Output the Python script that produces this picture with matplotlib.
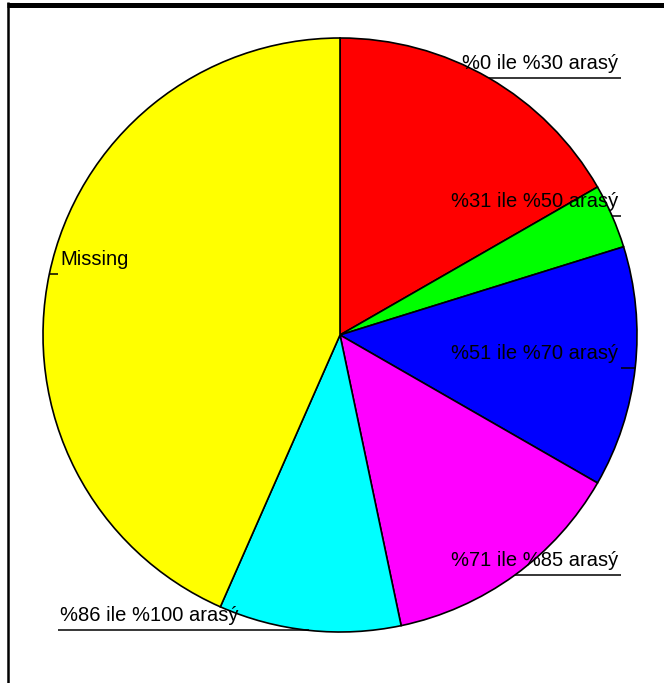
import numpy as np
import matplotlib
matplotlib.use("Agg")
import matplotlib.pyplot as plt
from matplotlib.lines import Line2D

# Share of respondents per range (percent)
categories = ["%0 ile %30 arasý", "%31 ile %50 arasý", "%51 ile %70 arasý",
              "%71 ile %85 arasý", "%86 ile %100 arasý", "Missing"]
values = [16.7, 3.5, 13.1, 13.4, 9.9, 43.4]
colors = ["#ff0000", "#00ff00", "#0000ff", "#ff00ff", "#00ffff", "#ffff00"]

W, H = 664, 683
fig = plt.figure(figsize=(W / 100, H / 100), dpi=100)
ax = fig.add_axes([0, 0, 1, 1])

cx, cy, R = 340, H - 335, 297
ax.pie(values, colors=colors, startangle=90, counterclock=False,
       center=(cx, cy), radius=R,
       wedgeprops=dict(edgecolor="black", linewidth=1.2))
ax.set_xlim(0, W)
ax.set_ylim(0, H)
ax.set_aspect("auto")
ax.axis("off")

# Labels with horizontal leader lines from the slice mid-point on the rim
total = sum(values)
start = 90.0
right_x, left_x = 621, 58
for lab, v in zip(categories, values):
    span = 360.0 * v / total
    mid = np.deg2rad(start - span / 2)
    start -= span
    ex, ey = cx + R * np.cos(mid), cy + R * np.sin(mid)
    if np.cos(mid) >= 0:
        ax.plot([ex, right_x], [ey, ey], color="black", lw=1.1,
                solid_capstyle="butt")
        ax.text(right_x - 3, ey + 9, lab, ha="right", va="baseline",
                fontsize=14.5, family="Liberation Sans")
    else:
        ax.plot([left_x, ex], [ey, ey], color="black", lw=1.1,
                solid_capstyle="butt")
        ax.text(left_x + 2, ey + 9, lab, ha="left", va="baseline",
                fontsize=14.5, family="Liberation Sans")

# Outer frame (top and left edges)
fig.add_artist(Line2D([7 / W, 1.0], [1 - 4.5 / H, 1 - 4.5 / H],
                      transform=fig.transFigure, color="black", lw=3.6,
                      solid_capstyle="butt"))
fig.add_artist(Line2D([8.2 / W, 8.2 / W], [0.0, 1 - 2 / H],
                      transform=fig.transFigure, color="black", lw=1.8,
                      solid_capstyle="butt"))

fig.savefig("out.png", dpi=100)
